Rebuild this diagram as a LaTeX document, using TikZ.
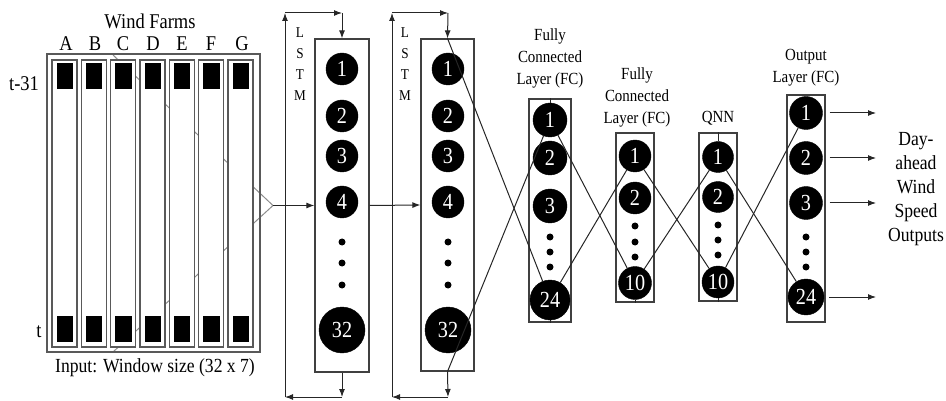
\documentclass[tikz,border=0pt]{standalone}
\usepackage{fontspec}
\setmainfont{Liberation Serif}[FakeStretch=0.88]
\usepackage{tikz}
\usetikzlibrary{arrows.meta}

\begin{document}
\begin{tikzpicture}[x=1pt, y=-1pt,
	layer/.style={draw=black!75, line width=1.2pt, inner sep=0pt},
	neuron/.style={circle, fill=black, draw=black, inner sep=0pt, text=white, font=\fontsize{23}{23}\selectfont},
	farm/.style={draw=black!65, line width=1.5pt, fill=white},
	wire/.style={black!85, line width=1pt},
	arr/.style={-{Latex[length=8pt,width=6pt]}},
	caption/.style={font=\fontsize{17}{22}\selectfont, align=center},
	big/.style={font=\fontsize{21}{24}\selectfont, align=center}]
	\useasboundingbox (0,0) rectangle (946,401);

	% input window
	\coordinate (fun) at (273,205.5);
	\draw[black!45, line width=1pt] (113,55) -- (fun) -- (113,352);
	\draw[farm, fill=none] (47,54) rectangle (260,352);
	\draw[farm] (52,60) rectangle (77,347);
	\draw[farm] (81.3,60) rectangle (106.3,347);
	\draw[farm] (110.6,60) rectangle (135.6,347);
	\draw[farm] (140,60) rectangle (165,347);
	\draw[farm] (169.3,60) rectangle (194.3,347);
	\draw[farm] (198.6,60) rectangle (223.6,347);
	\draw[farm] (228,60) rectangle (253,347);
	\fill (56.5,63) rectangle (73,89);   \fill (56.5,316) rectangle (73,342);
	\fill (85.8,63) rectangle (102.3,89); \fill (85.8,316) rectangle (102.3,342);
	\fill (115.1,63) rectangle (131.6,89); \fill (115.1,316) rectangle (131.6,342);
	\fill (144.5,63) rectangle (161,89);  \fill (144.5,316) rectangle (161,342);
	\fill (173.8,63) rectangle (190.3,89); \fill (173.8,316) rectangle (190.3,342);
	\fill (203.1,63) rectangle (219.6,89); \fill (203.1,316) rectangle (219.6,342);
	\fill (232.5,63) rectangle (249,89);  \fill (232.5,316) rectangle (249,342);

	\node[big] (wf) at (150,21) {Wind Farms};
	\node[big] (fa) at (66,44) {A};
	\node[big] (fb) at (95,44) {B};
	\node[big] (fc) at (123,44) {C};
	\node[big] (fd) at (153,44) {D};
	\node[big] (fe) at (182,44) {E};
	\node[big] (ff) at (211,44) {F};
	\node[big] (fg) at (242,44) {G};
	\node[big] (tt) at (24,84) {t-31};
	\node[big] (t0) at (39,332) {t};
	\node[font=\fontsize{20}{22}\selectfont] (inp) at (155,368) {Input: Window size (32 x 7)};

	% layer boxes
	\node[layer, minimum width=54pt, minimum height=333pt] (L1) at (342,205.5) {};
	\node[layer, minimum width=53pt, minimum height=332pt] (L2) at (447.5,205) {};
	\node[layer, minimum width=42pt, minimum height=223pt] (F1) at (550,210.5) {};
	\node[layer, minimum width=38pt, minimum height=169pt] (F2) at (635,217.5) {};
	\node[layer, minimum width=38pt, minimum height=168pt] (Q) at (718,217) {};
	\node[layer, minimum width=38pt, minimum height=227pt] (O) at (806,208.5) {};

	% first LSTM
	\node[neuron, minimum size=32pt] (l1) at (342,69) {1};
	\node[neuron, minimum size=32pt] (l2) at (342,116) {2};
	\node[neuron, minimum size=32pt] (l3) at (342,156) {3};
	\node[neuron, minimum size=32pt] (l4) at (342,202) {4};
	\fill (342,242) circle (3.5pt) (342,263) circle (3.5pt) (342,285) circle (3.5pt);
	\node[neuron, minimum size=46pt] (l32) at (342,330) {32};

	% second LSTM
	\node[neuron, minimum size=32pt] (m1) at (448,69) {1};
	\node[neuron, minimum size=32pt] (m2) at (448,116) {2};
	\node[neuron, minimum size=32pt] (m3) at (448,156) {3};
	\node[neuron, minimum size=32pt] (m4) at (448,202) {4};
	\fill (448,242) circle (3.5pt) (448,263) circle (3.5pt) (448,285) circle (3.5pt);
	\node[neuron, minimum size=46pt] (m32) at (448,330) {32};

	% fully connected 1
	\node[neuron, minimum size=34pt] (f1) at (550,120) {1};
	\node[neuron, minimum size=34pt] (f2) at (550,158) {2};
	\node[neuron, minimum size=34pt] (f3) at (550,206) {3};
	\fill (550,237) circle (3.5pt) (550,252) circle (3.5pt) (550,267) circle (3.5pt);
	\node[neuron, minimum size=40pt] (f24) at (550,300) {24};

	% fully connected 2
	\node[neuron, minimum size=32pt] (g1) at (635,156) {1};
	\node[neuron, minimum size=32pt] (g2) at (635,198) {2};
	\fill (635,226) circle (3.5pt) (635,242) circle (3.5pt) (635,257) circle (3.5pt);
	\node[neuron, minimum size=33pt] (g10) at (635,283) {10};

	% QNN
	\node[neuron, minimum size=31pt] (q1) at (718,157) {1};
	\node[neuron, minimum size=31pt] (q2) at (718,197) {2};
	\fill (718,225) circle (3.5pt) (718,240) circle (3.5pt) (718,255) circle (3.5pt);
	\node[neuron, minimum size=32pt] (q10) at (718,282) {10};

	% output layer
	\node[neuron, minimum size=33pt] (o1) at (806,113) {1};
	\node[neuron, minimum size=33pt] (o2) at (806,158) {2};
	\node[neuron, minimum size=33pt] (o3) at (806,203) {3};
	\fill (806,237) circle (3.5pt) (806,252) circle (3.5pt) (806,267) circle (3.5pt);
	\node[neuron, minimum size=36pt] (o24) at (806,297) {24};

	% captions
	\node[font=\fontsize{15}{21}\selectfont, align=center] (s1) at (300,64) {L\\S\\T\\M};
	\node[font=\fontsize{15}{21}\selectfont, align=center] (s2) at (405,64) {L\\S\\T\\M};
	\node[caption] (c1) at (550,58) {Fully\\Connected\\Layer (FC)};
	\node[caption] (c2) at (637,97) {Fully\\Connected\\Layer (FC)};
	\node[caption] (c3) at (718,118) {QNN};
	\node[caption] (c4) at (806,68) {Output\\Layer (FC)};
	\node[font=\fontsize{20}{24}\selectfont, align=center] (res) at (916,189) {Day-\\ahead\\Wind\\Speed\\Outputs};

	% recurrent loops
	\coordinate (a1) at (285,13); \coordinate (a2) at (342,13);
	\coordinate (a3) at (285,397); \coordinate (a4) at (342,397);
	\draw[wire, arr] (L1.south) -- (a4);
	\draw[wire, arr] (a4) -- (a3);
	\draw[wire, arr] (a3) -- (a1);
	\draw[wire, arr] (a1) -- (a2);
	\draw[wire, arr] (a2) -- (L1.north);
	\coordinate (b1) at (392,13); \coordinate (b2) at (448,13);
	\coordinate (b3) at (392,397); \coordinate (b4) at (448,397);
	\draw[wire, arr] (L2.south) -- (b4);
	\draw[wire, arr] (b4) -- (b3);
	\draw[wire, arr] (b3) -- (b1);
	\draw[wire, arr] (b1) -- (b2);
	\draw[wire, arr] (b2) -- (L2.north);

	% connections
	\draw[wire, arr] (fun) -- (L1.west);
	\draw[wire, arr] (L1.east) -- (L2.west);
	\draw[wire] (L2.north) -- (f24);
	\draw[wire] (f1) -- (L2.south);
	\draw[wire] (F1.north) -- (f1);
	\draw[wire] (f24) -- (F1.south);
	\draw[wire] (f1) -- (g10);
	\draw[wire] (f24) -- (g1);
	\draw[wire] (g10) -- (F2.south);
	\draw[wire] (g1) -- (q10);
	\draw[wire] (g10) -- (q1);
	\draw[wire] (Q.north) -- (q1);
	\draw[wire] (q10) -- (Q.south);
	\draw[wire] (q1) -- (o24);
	\draw[wire] (q10) -- (o1);

	\coordinate (e1) at (876,113); \coordinate (e2) at (876,158);
	\coordinate (e3) at (876,203); \coordinate (e4) at (876,297);
	\draw[wire, arr] ([xshift=7pt]o1.east) -- (e1);
	\draw[wire, arr] ([xshift=7pt]o2.east) -- (e2);
	\draw[wire, arr] ([xshift=7pt]o3.east) -- (e3);
	\draw[wire, arr] ([xshift=5pt]o24.east) -- (e4);
\end{tikzpicture}
\end{document}
